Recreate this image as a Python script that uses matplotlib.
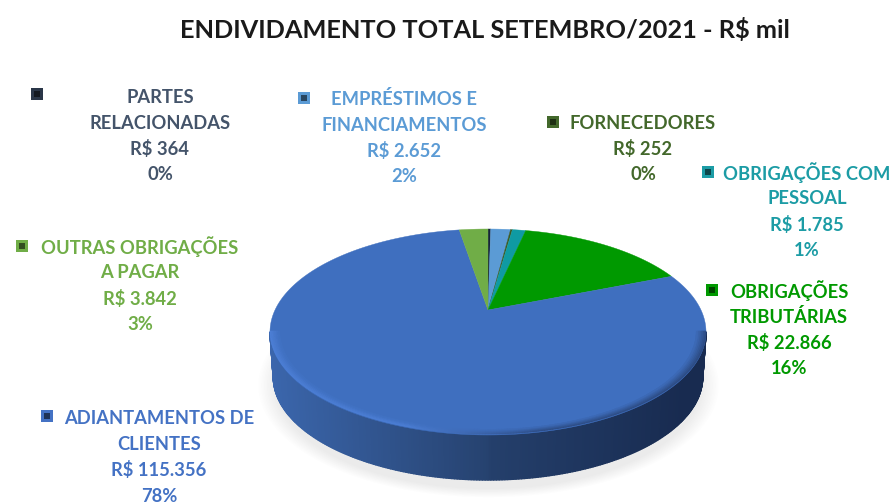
import numpy as np
import matplotlib
matplotlib.use('Agg')
import matplotlib.pyplot as plt
from matplotlib.collections import PolyCollection

# Values in R$ mil, clockwise from the top of the pie
names = ['PARTES\nRELACIONADAS', 'EMPRÉSTIMOS E\nFINANCIAMENTOS', 'FORNECEDORES',
         'OBRIGAÇÕES COM\nPESSOAL', 'OBRIGAÇÕES\nTRIBUTÁRIAS',
         'ADIANTAMENTOS DE\nCLIENTES', 'OUTRAS OBRIGAÇÕES\nA PAGAR']
values = [364, 2652, 252, 1785, 22866, 115356, 3842]
value_labels = ['R$ 364', 'R$ 2.652', 'R$ 252', 'R$ 1.785', 'R$ 22.866', 'R$ 115.356', 'R$ 3.842']
pct_labels = ['0%', '2%', '0%', '1%', '16%', '78%', '3%']

slice_colors = ['#16233A', '#5B9BD5', '#3B5A26', '#0F9AA3', '#009900', '#3F6FBF', '#70AD47']
text_colors = ['#44546A', '#5B9BD5', '#43682B', '#1C9CA5', '#009900', '#4472C4', '#70AD47']
marker_colors = ['#2A3648', '#5B9BD5', '#43682B', '#1C9CA5', '#009900', '#4472C4', '#70AD47']

# Label layout in pixels: text centre x, first line y, marker x, marker y
label_x = [160, 404, 643, 807, 789, 159, 140]
label_y = [97, 99, 123, 173, 291, 418, 247]
marker_x = [37, 304, 553, 708, 712, 47, 22]
marker_y = [94, 98, 122, 172, 290, 416, 246]

# Pie geometry in pixels
cx, cy = 488, 332
rx, ry = 218, 103
apex_up = 22       # perspective moves the centre of the disc above the ellipse centre
depth = 45
k = 2 * apex_up / (2 * ry)
rx0 = rx * np.sqrt(1 - k ** 2)


def project(angle, r=1.0):
    # angle clockwise from the top of the disc, with perspective
    u = r * np.sin(angle)
    v = r * np.cos(angle)
    w = 1 + k * v
    return cx + rx0 * u / w, cy - (ry * v + apex_up) / w


def mix(c1, c2, t):
    a = np.array(matplotlib.colors.to_rgb(c1))
    b = np.array(matplotlib.colors.to_rgb(c2))
    return tuple(a + (b - a) * t)


fig = plt.figure(figsize=(8.94, 5.03), dpi=100)
ax = fig.add_axes([0, 0, 1, 1])
ax.axis('off')

# Soft shadow under the pie
yy, xx = np.mgrid[300:503, 240:740]
dist = np.sqrt(((xx - cx) / (rx - 4)) ** 2 + ((yy - (cy + depth + 8)) / (ry + 1)) ** 2)
alpha = np.clip((1.08 - dist) / 0.09, 0, 1) * 0.13
shadow = np.zeros(xx.shape + (4,))
shadow[..., :3] = 0.4
shadow[..., 3] = alpha
ax.imshow(shadow, extent=(240, 740, 503, 300), aspect='auto', interpolation='bilinear', zorder=1)
ax.set_xlim(0, 894)
ax.set_ylim(503, 0)

# Side wall, lit from the left
n = 240
edge = np.linspace(np.pi / 2, 3 * np.pi / 2, n + 1)
px = cx + rx * np.sin(edge)
py = cy - ry * np.cos(edge)
side_polys = []
side_cols = []
for i in range(n):
    side_polys.append([(px[i], py[i]), (px[i + 1], py[i + 1]),
                       (cx + (px[i + 1] - cx) * 0.985, py[i + 1] + depth),
                       (cx + (px[i] - cx) * 0.985, py[i] + depth)])
    t = 1 - (px[i] + px[i + 1] - 2 * (cx - rx)) / (4 * rx)
    if t > 0.5:
        col = mix('#26426F', '#3B66AC', (t - 0.5) * 2)
    else:
        col = mix('#182B50', '#26426F', np.clip(t * 2 - 0.1, 0, 1))
    side_cols.append(col)
ax.add_collection(PolyCollection(side_polys, facecolors=side_cols, edgecolors=side_cols,
                                 linewidths=1.0, zorder=2))

# Top face, each slice from its share of the total
fractions = np.array(values) / sum(values)
ends = np.cumsum(fractions) * 2 * np.pi
starts = ends - fractions * 2 * np.pi
ax_x, ax_y = project(0.0, 0.0)
for start, end, col in zip(starts, ends, slice_colors):
    ang = np.linspace(start, end, max(3, int((end - start) * 80)))
    bx, by = project(ang)
    ax.fill(np.r_[ax_x, bx], np.r_[ax_y, by], color=col, lw=0.3, zorder=3)

# Bevel along the rim of the big slice
bev_polys = []
bev_cols = []
scales = np.linspace(1.0, 0.955, 7)
for j in range(len(scales) - 1):
    fade = j / (len(scales) - 1)
    for i in range(n):
        a1, a2 = edge[i], edge[i + 1]
        x1, y1 = cx + scales[j] * rx * np.sin(a1), cy - scales[j] * ry * np.cos(a1) - 1
        x2, y2 = cx + scales[j] * rx * np.sin(a2), cy - scales[j] * ry * np.cos(a2) - 1
        x3, y3 = cx + scales[j + 1] * rx * np.sin(a2), cy - scales[j + 1] * ry * np.cos(a2) - 1
        x4, y4 = cx + scales[j + 1] * rx * np.sin(a1), cy - scales[j + 1] * ry * np.cos(a1) - 1
        t = (a1 - np.pi / 2) / np.pi
        rim = mix('#2D4C84', '#4C7FD6', np.clip((t - 0.42) / 0.2, 0, 1))
        bev_polys.append([(x1, y1), (x2, y2), (x3, y3), (x4, y4)])
        bev_cols.append(mix(rim, '#3F6FBF', fade))
ax.add_collection(PolyCollection(bev_polys, facecolors=bev_cols, edgecolors=bev_cols,
                                 linewidths=0.4, zorder=4))

# Title and labels
ax.text(485, 30, 'ENDIVIDAMENTO TOTAL SETEMBRO/2021 - R$ mil', family='Lato', fontweight='bold',
        fontsize=18.3, color='#1A1A1A', ha='center', va='center', zorder=6)

for i in range(len(values)):
    lines = names[i].split('\n') + [value_labels[i], pct_labels[i]]
    for j, line in enumerate(lines):
        ax.text(label_x[i], label_y[i] + 26 * j, line, family='Lato', fontweight='bold', fontsize=13.2,
                color=text_colors[i], ha='center', va='center', zorder=6)
    ax.scatter(marker_x[i], marker_y[i], marker='s', s=70, color=marker_colors[i], linewidths=0, zorder=6)
    ax.scatter(marker_x[i], marker_y[i], marker='s', s=20, color=mix(marker_colors[i], '#000000', 0.55),
               linewidths=0, zorder=7)

fig.savefig('out.png', dpi=100)
